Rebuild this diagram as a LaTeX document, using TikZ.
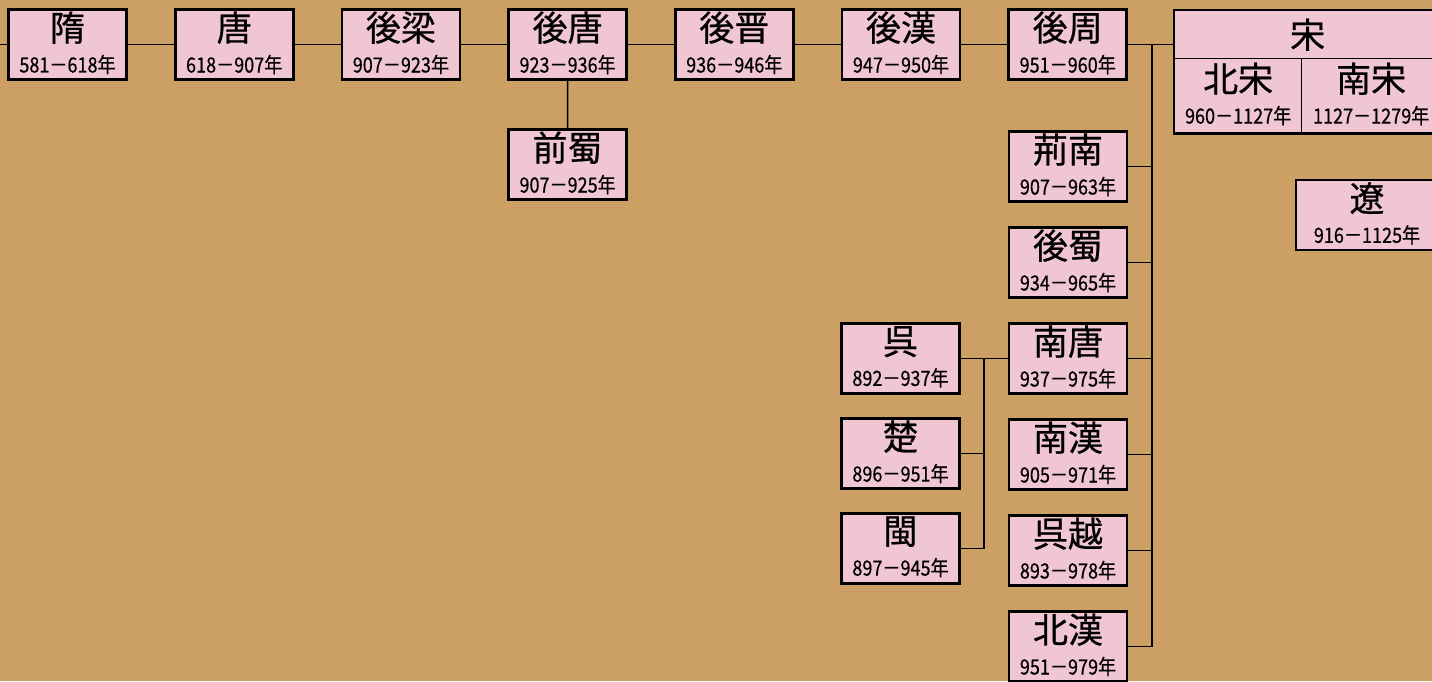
\documentclass[tikz,border=0pt]{standalone}
\usepackage{fontspec}
\setmainfont{Noto Sans CJK JP}[FakeBold=0.6]
\newfontfamily\datefont{Noto Sans CJK JP}[FakeStretch=0.86, FakeBold=0.4]
\usetikzlibrary{positioning}
\definecolor{paper}{RGB}{204,160,100}
\definecolor{pinkbox}{RGB}{240,198,210}
\newcommand{\dyn}[2]{{\fontsize{35}{36}\selectfont #1}\\[10pt]{\datefont\fontsize{21}{22}\selectfont #2\rule[-5pt]{0pt}{5pt}}}

\begin{document}
\begin{tikzpicture}[x=1pt, y=-1pt,
				era/.style= {draw, fill=pinkbox, line width=2.6pt, minimum width=118, minimum height=70, inner sep=0pt, align=center},
				link/.style= {line width=1.3pt}
			]
			\clip (0,0) rectangle (1432,681);
			\fill [paper] (0,0) rectangle (1432,681);
			
			% main line of dynasties
			\foreach \n/\t/\d [count=\i from 0] in {sui/隋/581－618年, tang/唐/618－907年, houliang/後梁/907－923年, houtang/後唐/923－936年, houjin/後晋/936－946年, houhan/後漢/947－950年, houzhou/後周/951－960年}{
				\node (\n) [era] at (67.5+\i*166.7, 44.5) {\dyn{\t}{\d}};
			}
			\node (qianshu) [era] at (567.6, 164.5) {\dyn{前蜀}{907－925年}};
			
			% ten kingdoms
			\foreach \n/\t/\d [count=\i from 0] in {jingnan/荊南/907－963年, houshu/後蜀/934－965年, nantang/南唐/937－975年, nanhan/南漢/905－971年, wuyue/呉越/893－978年, beihan/北漢/951－979年}{
				\node (\n) [era] at (1068, 166.5+\i*96) {\dyn{\t}{\d}};
			}
			\foreach \n/\t/\d [count=\i from 0] in {wu/呉/892－937年, chu/楚/896－951年, min/閩/897－945年}{
				\node (\n) [era] at (900.5, 358.5+\i*95) {\dyn{\t}{\d}};
			}
			
			% song and liao
			\node (songtop) [era, line width=1.3pt, anchor=north west, minimum width=266, minimum height=48] at (1174, 10) {\fontsize{35}{36}\selectfont 宋};
			\node (beisong) [era, line width=1.3pt, anchor=north west, minimum width=127, minimum height=74] at (1174, 58) {\dyn{北宋}{960－1127年}};
			\node (nansong) [era, line width=1.3pt, anchor=north west, minimum width=139, minimum height=74] at (1301, 58) {\dyn{南宋}{1127－1279年}};
			\draw [line width=2.6pt] (songtop.north west) rectangle (nansong.south east);
			\node (liao) [era, minimum width=142] at (1367, 215) {\dyn{遼}{916－1125年}};
			
			\coordinate (start) at (0, 44.5);
			\coordinate (trunk) at (1152, 44.5);
			\coordinate (branch) at (984, 0);
			
			\draw [link] (start) -- (sui);
			\foreach \a/\b in {sui/tang, tang/houliang, houliang/houtang, houtang/houjin, houjin/houhan, houhan/houzhou}{
				\draw [link] (\a) -- (\b);
			}
			\draw [link] (houtang) -- (qianshu);
			\draw [link] (houzhou.east) -- (houzhou.east -| songtop.west);
			
			\draw [link] (trunk) -- (trunk |- beihan);
			\foreach \n in {jingnan, houshu, nantang, nanhan, wuyue, beihan}{
				\draw [link] (\n) -- (\n -| trunk);
			}
			
			\draw [link] (wu) -- (nantang);
			\draw [link] (wu -| branch) -- (min -| branch);
			\foreach \n in {chu, min}{
				\draw [link] (\n) -- (\n -| branch);
			}
		\end{tikzpicture}
\end{document}
